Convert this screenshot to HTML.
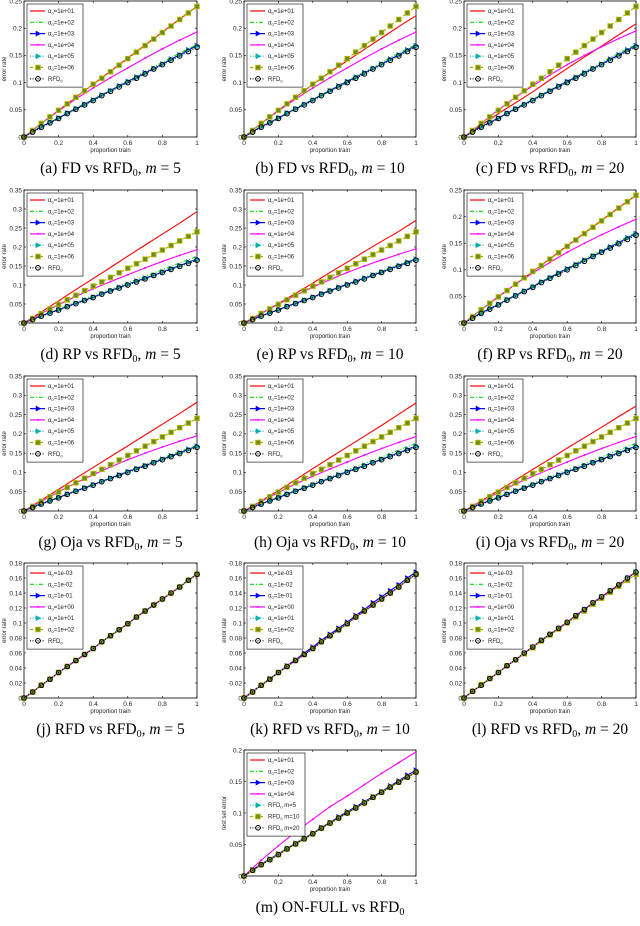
<!DOCTYPE html>
<html><head><meta charset="utf-8">
<style>
html,body{margin:0;padding:0;background:#fff;}
svg{display:block;}
</style></head>
<body>
<svg id="fig" width="640" height="926" viewBox="0 0 640 926" xmlns="http://www.w3.org/2000/svg"></svg>
<script>
// ---- data (x = proportion train) ----
const xVals = [0,0.1,0.2,0.3,0.4,0.5,0.6,0.7,0.8,0.9,1];
const xFine = [0,0.05,0.1,0.15,0.2,0.25,0.3,0.35,0.4,0.45,0.5,0.55,0.6,0.65,0.7,0.75,0.8,0.85,0.9,0.95,1];
const olive24 = [0,0.012,0.025,0.037,0.049,0.061,0.073,0.085,0.097,0.108,0.120,0.132,0.144,0.156,0.168,0.180,0.192,0.204,0.216,0.228,0.240];
const blue168 = [0,0.010,0.019,0.027,0.035,0.044,0.052,0.060,0.068,0.077,0.085,0.094,0.102,0.110,0.118,0.126,0.134,0.143,0.151,0.160,0.168];
const black165 = [0,0.009,0.018,0.026,0.034,0.043,0.051,0.059,0.067,0.076,0.084,0.092,0.100,0.108,0.116,0.125,0.133,0.141,0.149,0.157,0.165];
const green170 = [0,0.010,0.019,0.027,0.035,0.044,0.053,0.061,0.069,0.078,0.086,0.095,0.103,0.112,0.120,0.129,0.137,0.146,0.154,0.162,0.170];
const cyan167 = [0,0.009,0.018,0.027,0.035,0.044,0.052,0.060,0.068,0.077,0.085,0.093,0.101,0.109,0.117,0.126,0.134,0.142,0.150,0.159,0.167];
const mag193 = [0,0.025,0.048,0.070,0.090,0.109,0.127,0.145,0.162,0.178,0.193];
const magC = [0,0.025,0.050,0.073,0.094,0.114,0.133,0.150,0.166,0.181,0.195];
const redA = [0,0.025,0.049,0.073,0.097,0.121,0.145,0.169,0.193,0.217,0.240];
const redB = [0,0.025,0.049,0.073,0.097,0.119,0.140,0.161,0.182,0.203,0.223];
const redC = [0,0.022,0.043,0.063,0.083,0.105,0.126,0.147,0.167,0.188,0.208];
const redD = [0,0.029,0.058,0.088,0.117,0.146,0.176,0.205,0.234,0.263,0.293];
const greenD = [0,0.019,0.037,0.054,0.072,0.089,0.106,0.123,0.140,0.158,0.175];
const redE = [0,0.025,0.051,0.078,0.105,0.133,0.160,0.188,0.215,0.241,0.270];
const redG = [0,0.028,0.056,0.085,0.113,0.141,0.169,0.197,0.225,0.253,0.282];
const redH = [0,0.026,0.053,0.081,0.110,0.138,0.166,0.194,0.222,0.251,0.280];
const redI = [0,0.026,0.053,0.080,0.108,0.135,0.163,0.190,0.217,0.245,0.272];
const rfdJ = [0,0.008,0.017,0.025,0.034,0.042,0.050,0.058,0.066,0.075,0.083,0.091,0.099,0.108,0.116,0.124,0.132,0.140,0.148,0.157,0.165];
const rfdL = [0,0.009,0.017,0.026,0.034,0.043,0.051,0.060,0.068,0.077,0.085,0.093,0.101,0.110,0.118,0.127,0.135,0.143,0.151,0.160,0.168];
const magM = [0,0.025,0.048,0.070,0.090,0.110,0.127,0.145,0.163,0.180,0.197];
const xTicks = [0,0.2,0.4,0.6,0.8,1];
const xTickLabels = ["0","0.2","0.4","0.6","0.8","1"];
const legFD = ["1e+01","1e+02","1e+03","1e+04","1e+05","1e+06"];
const legRFD = ["1e-03","1e-02","1e-01","1e+00","1e+01","1e+02"];
const legM = ["1e+01","1e+02","1e+03","1e+04"];

// ---- layout ----
const colX = [[24,197],[244,416],[464,636]];
const rowY = [[1,137],[190,323],[376,511],[563,698],[750,876]];
const styles = [
  {c:'#ff0000',dash:'',m:'none',n:'red'},
  {c:'#00e000',dash:'4,2,1,2',m:'none',n:'green'},
  {c:'#0000ff',dash:'',m:'tri',n:'blue'},
  {c:'#ff00ff',dash:'',m:'dot',n:'magenta'},
  {c:'#00b0b0',dash:'1,1.5',m:'tri',n:'cyan'},
  {c:'#a8a800',dash:'3,2',m:'sq',n:'olive'},
  {c:'#000000',dash:'1,1.5',m:'circ',n:'black'}
];
const panels = [
 {id:'a',col:0,row:0,ymax:0.25,step:0.05,series:[redA,green170,blue168,mag193,cyan167,olive24,black165],leg:legFD,cap:['(a) FD vs RFD','5']},
 {id:'b',col:1,row:0,ymax:0.25,step:0.05,series:[redB,green170,blue168,mag193,cyan167,olive24,black165],leg:legFD,cap:['(b) FD vs RFD','10']},
 {id:'c',col:2,row:0,ymax:0.25,step:0.05,series:[redC,green170,blue168,magC,cyan167,olive24,black165],leg:legFD,cap:['(c) FD vs RFD','20']},
 {id:'d',col:0,row:1,ymax:0.35,step:0.05,series:[redD,greenD,blue168,mag193,cyan167,olive24,black165],leg:legFD,cap:['(d) RP vs RFD','5']},
 {id:'e',col:1,row:1,ymax:0.35,step:0.05,series:[redE,green170,blue168,magC,cyan167,olive24,black165],leg:legFD,cap:['(e) RP vs RFD','10']},
 {id:'f',col:2,row:1,ymax:0.25,step:0.05,series:[redA,green170,blue168,magC,cyan167,olive24,black165],leg:legFD,cap:['(f) RP vs RFD','20']},
 {id:'g',col:0,row:2,ymax:0.35,step:0.05,series:[redG,green170,blue168,magC,cyan167,olive24,black165],leg:legFD,cap:['(g) Oja vs RFD','5']},
 {id:'h',col:1,row:2,ymax:0.35,step:0.05,series:[redH,greenD,blue168,mag193,cyan167,olive24,black165],leg:legFD,cap:['(h) Oja vs RFD','10']},
 {id:'i',col:2,row:2,ymax:0.35,step:0.05,series:[redI,greenD,blue168,mag193,cyan167,olive24,black165],leg:legFD,cap:['(i) Oja vs RFD','20']},
 {id:'j',col:0,row:3,ymax:0.18,step:0.02,series:[rfdJ,rfdJ,rfdJ,rfdJ,rfdJ,rfdJ,rfdJ],leg:legRFD,cap:['(j) RFD vs RFD','5']},
 {id:'k',col:1,row:3,ymax:0.18,step:0.02,series:[rfdJ,rfdJ,rfdL,rfdJ,rfdJ,rfdJ,rfdJ],leg:legRFD,cap:['(k) RFD vs RFD','10']},
 {id:'l',col:2,row:3,ymax:0.18,step:0.02,series:[rfdL,rfdL,rfdL,rfdL,rfdL,black165,rfdL],leg:legRFD,cap:['(l) RFD vs RFD','20']},
 {id:'m',col:1,row:4,ymax:0.20,step:0.05,series:[black165,black165,blue168,magM,black165,black165,black165],leg:legM,cap:null,ylab:'test set error'}
];

const NS='http://www.w3.org/2000/svg';
const svg=document.getElementById('fig');
function mk(tag,attrs,parent){const e=document.createElementNS(NS,tag);for(const k in attrs)e.setAttribute(k,attrs[k]);(parent||svg).appendChild(e);return e;}
function marker(g,kind,x,y,c){
  if(kind==='tri'){const p=mk('polygon',{points:`${x-2},${y-2.4} ${x+2.6},${y} ${x-2},${y+2.4}`,fill:c,stroke:c,'stroke-width':0.6},g);}
  else if(kind==='dot'){const p=mk('circle',{cx:x,cy:y,r:1,fill:c},g);}
  else if(kind==='sq'){const p=mk('rect',{x:x-2.3,y:y-2.3,width:4.6,height:4.6,fill:'#6f8a22',stroke:'#b8b800','stroke-width':0.9},g);}
  else if(kind==='circ'){const p=mk('circle',{cx:x,cy:y,r:2.3,fill:'none',stroke:'#000','stroke-width':1},g);}
}
panels.forEach(p=>{
  const [x0,x1]=colX[p.col],[y0,y1]=rowY[p.row];
  const sx=v=>x0+v*(x1-x0), sy=v=>y1-v/p.ymax*(y1-y0);
  const g=mk('g',{});
  
  
  const box=mk('rect',{x:x0,y:y0,width:x1-x0,height:y1-y0,fill:'#fff',stroke:'#000','stroke-width':0.8},g);
  
  
  xTicks.forEach((t,i)=>{
    const X=sx(t);
    mk('line',{x1:X,y1:y1,x2:X,y2:y1-2,stroke:'#000','stroke-width':0.6},g);
    mk('line',{x1:X,y1:y0,x2:X,y2:y0+2,stroke:'#000','stroke-width':0.6},g);
    const tx=mk('text',{x:X,y:y1+8,'font-size':6.5,'text-anchor':'middle','font-family':'Liberation Sans, sans-serif',fill:'#222'},g);
    tx.textContent=xTickLabels[i];
    
    
  });
  const n=Math.round(p.ymax/p.step);
  for(let i=0;i<=n;i++){
    const v=i*p.step, Y=sy(v);
    mk('line',{x1:x0,y1:Y,x2:x0+2,y2:Y,stroke:'#000','stroke-width':0.6},g);
    mk('line',{x1:x1,y1:Y,x2:x1-2,y2:Y,stroke:'#000','stroke-width':0.6},g);
    const tx=mk('text',{x:x0-2,y:Y+2.3,'font-size':6.5,'text-anchor':'end','font-family':'Liberation Sans, sans-serif',fill:'#222'},g);
    tx.textContent=i===0?'0':String(+v.toFixed(2));
    
    
  }
  const xl=mk('text',{x:(x0+x1)/2,y:y1+15,'font-size':6,'text-anchor':'middle','font-family':'Liberation Sans, sans-serif',fill:'#222'},g);
  xl.textContent='proportion train';
  
  
  const yc=(y0+y1)/2;
  const yl=mk('text',{x:x0-18,y:yc,'font-size':6,'text-anchor':'middle','font-family':'Liberation Sans, sans-serif',fill:'#222',transform:`rotate(-90 ${x0-18} ${yc})`},g);
  yl.textContent=p.ylab||'error rate';
  
  
  p.series.forEach((arr,si)=>{
    const st=styles[si];
    const xs=arr.length===xFine.length?xFine:xVals;
    const sg=mk('g',{},g);
    
    
    const pts=arr.map((v,i)=>sx(xs[i]).toFixed(2)+','+sy(v).toFixed(2)).join(' ');
    const pl=mk('polyline',{points:pts,fill:'none',stroke:st.c,'stroke-width':1.1,'stroke-dasharray':st.dash},sg);
    
    
    if(st.m!=='none') arr.forEach((v,i)=>marker(sg,st.m,sx(xs[i]),sy(v),st.c));
  });
  const lx=x0+3, ly=y0+3, nL=7, rowH=11.3;
  const lg=mk('g',{},g);
  
  
  mk('rect',{x:lx,y:ly,width:p.id==='m'?58:56,height:nL*rowH+4,fill:'#fff',stroke:'#000','stroke-width':0.6},lg);
  for(let i=0;i<nL;i++){
    const st=styles[i], Y=ly+7+i*rowH;
    const eg=mk('g',{},lg);
    
    
    mk('line',{x1:lx+3,y1:Y,x2:lx+18,y2:Y,stroke:st.c,'stroke-width':1.2,'stroke-dasharray':st.dash},eg);
    if(st.m!=='none') marker(eg,st.m,lx+11,Y,st.c);
    const t=mk('text',{x:lx+21,y:Y+2,'font-size':6,'font-family':'Liberation Sans, sans-serif',fill:'#222'},eg);
    if(i<p.leg.length){ t.innerHTML=`α<tspan font-size="4" dy="1.5">0</tspan><tspan dy="-1.5">=${p.leg[i]}</tspan>`; }
    else if(p.id==='m'){ const ms=['5','10','20'][i-4]; t.innerHTML=`RFD<tspan font-size="4" dy="1.5">0</tspan><tspan dy="-1.5"> m=${ms}</tspan>`; }
    else { t.innerHTML=`RFD<tspan font-size="4" dy="1.5">0</tspan>`; }
  }
  const cy=y1+36;
  const cap=mk('text',{x:(x0+x1)/2,y:cy,'font-size':15.5,'text-anchor':'middle','font-family':'Liberation Serif, serif',fill:'#000'},g);
  
  
  if(p.cap){
    cap.innerHTML=`${p.cap[0]}<tspan font-size="10" dy="3">0</tspan><tspan dy="-3">, </tspan><tspan font-style="italic">m</tspan> = ${p.cap[1]}`;
  } else {
    cap.innerHTML=`(m) ON-FULL vs RFD<tspan font-size="10" dy="3">0</tspan>`;
  }
});
</script>
</body></html>
